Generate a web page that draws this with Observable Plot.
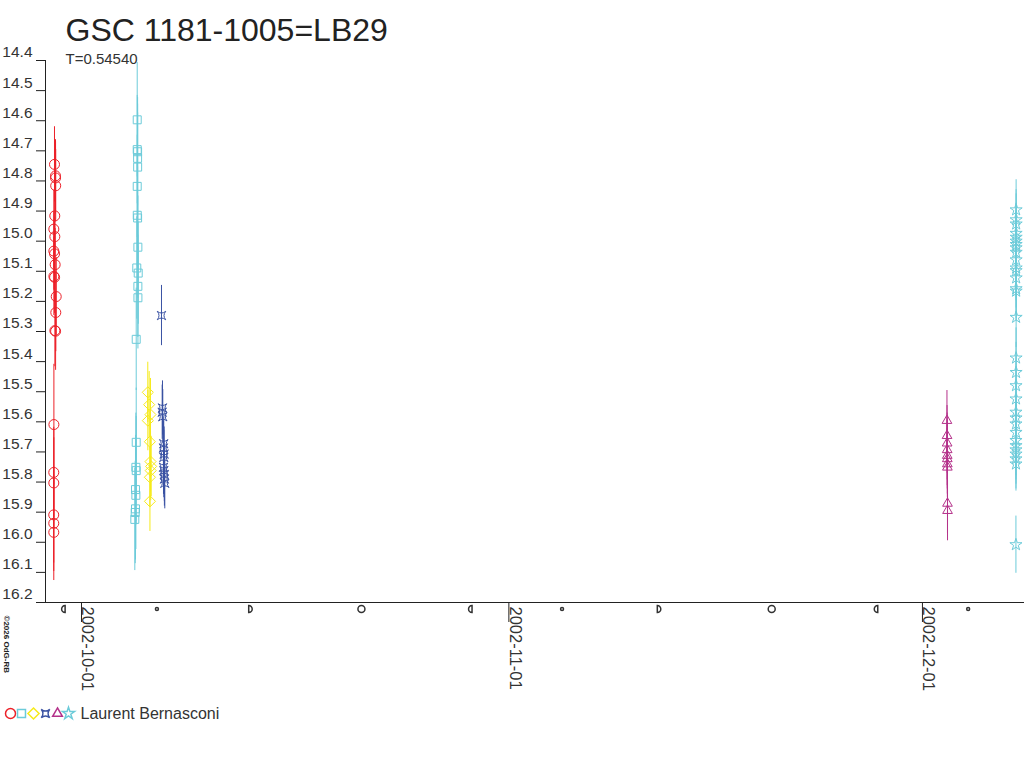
<!DOCTYPE html>
<html><head><meta charset="utf-8">
<script src="https://cdn.jsdelivr.net/npm/d3@7"></script>
<script src="https://cdn.jsdelivr.net/npm/@observablehq/plot@0.6"></script>
<style>body{margin:0;background:#fff;}#chart{width:1024px;height:768px;}</style>
</head><body><div id="chart"></div>
<script>
const title = "GSC 1181-1005=LB29";
const subtitle = "T=0.54540";
const observer = "Laurent Bernasconi";
const copyright = "©2026 OdG-RB";
const yTicks = [14.4,14.5,14.6,14.7,14.8,14.9,15.0,15.1,15.2,15.3,15.4,15.5,15.6,15.7,15.8,15.9,16.0,16.1,16.2];
const xTicks = ["2002-10-01T00:00Z","2002-11-01T00:00Z","2002-12-01T00:00Z"];
const xTickLabels = ["2002-10-01","2002-11-01","2002-12-01"];
const xDomain = ["2002-09-28T09:20Z","2002-12-08T09:40Z"];
const yDomain = [14.4, 16.2];

// Moon phases
const moonLastQuarter = ["2002-09-29T17:03Z","2002-10-29T05:28Z","2002-11-27T15:46Z"];
const moonNew = ["2002-10-06T11:18Z","2002-11-04T20:35Z","2002-12-04T07:34Z"];
const moonFirstQuarter = ["2002-10-13T05:33Z","2002-11-11T20:52Z"];
const moonFull = ["2002-10-21T07:20Z","2002-11-20T01:34Z"];

// Series 1: red circles
const redTime = ["2002-09-29T01:00Z","2002-09-29T02:45Z","2002-09-29T02:50Z","2002-09-29T03:05Z","2002-09-29T01:30Z","2002-09-28T23:50Z","2002-09-29T01:35Z","2002-09-28T23:52Z","2002-09-29T01:05Z","2002-09-29T02:10Z","2002-09-28T23:55Z","2002-09-29T01:10Z","2002-09-29T04:00Z","2002-09-29T03:15Z","2002-09-29T01:40Z","2002-09-29T02:55Z","2002-09-28T23:58Z","2002-09-28T23:45Z","2002-09-28T23:48Z","2002-09-28T23:40Z","2002-09-28T23:44Z","2002-09-28T23:46Z"];
const redMag = [14.745,14.783,14.790,14.816,14.916,14.960,14.985,15.033,15.042,15.078,15.117,15.120,15.184,15.237,15.297,15.299,15.609,15.768,15.803,15.909,15.937,15.967];
const redErr = [0.125,0.12,0.12,0.12,0.12,0.13,0.12,0.13,0.12,0.12,0.13,0.12,0.13,0.13,0.12,0.13,0.2,0.15,0.15,0.16,0.16,0.16];

// Series 2: cyan squares
const cyanTime = ["2002-10-05T01:00Z","2002-10-05T01:00Z","2002-10-05T01:40Z","2002-10-05T01:40Z","2002-10-05T01:45Z","2002-10-05T01:00Z","2002-10-05T01:05Z","2002-10-05T01:40Z","2002-10-05T02:10Z","2002-10-05T00:15Z","2002-10-05T02:45Z","2002-10-05T02:10Z","2002-10-05T02:15Z","2002-10-04T23:15Z","2002-10-04T23:15Z","2002-10-04T22:40Z","2002-10-04T23:15Z","2002-10-04T22:00Z","2002-10-04T22:40Z","2002-10-04T22:00Z","2002-10-04T21:30Z","2002-10-04T20:50Z"];
const cyanMag = [14.597,14.696,14.703,14.725,14.754,14.818,14.914,14.923,15.020,15.089,15.106,15.150,15.188,15.326,15.668,15.751,15.762,15.825,15.844,15.889,15.901,15.924];
const cyanErr = [0.19,0.18,0.18,0.18,0.18,0.17,0.17,0.17,0.17,0.17,0.17,0.17,0.17,0.17,0.18,0.18,0.18,0.18,0.18,0.17,0.17,0.17];

// Series 3: yellow diamonds
const yellowTime = ["2002-10-05T19:25Z","2002-10-05T21:50Z","2002-10-06T00:05Z","2002-10-05T19:30Z","2002-10-05T23:00Z","2002-10-06T00:10Z","2002-10-06T01:15Z","2002-10-06T00:30Z","2002-10-05T23:05Z","2002-10-05T23:10Z"];
const yellowMag = [15.502,15.543,15.576,15.596,15.666,15.732,15.748,15.762,15.784,15.864];
const yellowErr = [0.10,0.11,0.12,0.10,0.10,0.10,0.10,0.10,0.10,0.10];

// Series 4: dark blue
const blueTime = ["2002-10-06T19:15Z","2002-10-06T21:00Z","2002-10-06T20:30Z","2002-10-06T21:30Z","2002-10-06T23:10Z","2002-10-06T22:40Z","2002-10-06T23:50Z","2002-10-06T23:15Z","2002-10-06T22:45Z","2002-10-06T23:20Z","2002-10-07T00:15Z","2002-10-07T00:20Z","2002-10-07T01:00Z"];
const blueMag = [15.247,15.554,15.568,15.583,15.673,15.687,15.707,15.718,15.751,15.762,15.775,15.790,15.804];
const blueErr = [0.10,0.09,0.09,0.09,0.09,0.09,0.09,0.09,0.09,0.09,0.09,0.09,0.085];

// Series 5: magenta triangles
const magentaTime = ["2002-12-02T18:40Z","2002-12-02T18:50Z","2002-12-02T19:00Z","2002-12-02T19:05Z","2002-12-02T19:10Z","2002-12-02T19:15Z","2002-12-02T19:20Z","2002-12-02T19:25Z","2002-12-02T19:35Z","2002-12-02T19:40Z"];
const magentaMag = [15.596,15.646,15.671,15.693,15.712,15.723,15.740,15.751,15.871,15.895];
const magentaErr = [0.10,0.10,0.10,0.10,0.10,0.10,0.10,0.10,0.10,0.10];

// Series 6: cyan stars
const starTime = ["2002-12-07T19:05Z","2002-12-07T19:05Z","2002-12-07T19:10Z","2002-12-07T19:05Z","2002-12-07T19:10Z","2002-12-07T19:05Z","2002-12-07T19:10Z","2002-12-07T19:05Z","2002-12-07T19:10Z","2002-12-07T19:05Z","2002-12-07T19:10Z","2002-12-07T19:05Z","2002-12-07T19:10Z","2002-12-07T19:05Z","2002-12-07T19:10Z","2002-12-07T19:05Z","2002-12-07T19:00Z","2002-12-07T19:00Z","2002-12-07T18:55Z","2002-12-07T18:55Z","2002-12-07T18:50Z","2002-12-07T18:55Z","2002-12-07T18:50Z","2002-12-07T18:55Z","2002-12-07T18:50Z","2002-12-07T18:55Z","2002-12-07T18:50Z","2002-12-07T18:55Z","2002-12-07T18:50Z","2002-12-07T18:50Z","2002-12-07T18:45Z"];
const starMag = [14.896,14.929,14.943,14.974,14.987,15.000,15.011,15.022,15.037,15.062,15.089,15.098,15.122,15.158,15.166,15.253,15.388,15.436,15.480,15.524,15.568,15.587,15.607,15.635,15.662,15.679,15.693,15.707,15.723,15.740,16.008];
const starErr = [0.10,0.10,0.10,0.10,0.10,0.10,0.10,0.10,0.10,0.10,0.10,0.10,0.10,0.10,0.10,0.10,0.10,0.10,0.10,0.10,0.10,0.10,0.10,0.10,0.10,0.10,0.10,0.10,0.10,0.09,0.095];

const colors = {red:"#ec2129", cyan:"#6ccbd9", yellow:"#f6ea1a", blue:"#3a52a3", magenta:"#b4318a"};
const font = "'Liberation Sans', Arial, Helvetica, sans-serif";

function pts(times, mags, errs){ return times.map((t,i)=>({t:new Date(t), m:mags[i], e:errs[i]})); }

const astroid = {draw(ctx, size){ const r = Math.sqrt(size/Math.PI); const s=r*0.85, c=r*0.15;
  ctx.moveTo(-s,-s); ctx.quadraticCurveTo(0,-c,s,-s); ctx.quadraticCurveTo(c,0,s,s);
  ctx.quadraticCurveTo(0,c,-s,s); ctx.quadraticCurveTo(-c,0,-s,-s); ctx.closePath(); }};
const moonLastSym = {draw(ctx,size){const r=Math.sqrt(size/Math.PI); ctx.moveTo(r*0.4,-r); ctx.arc(r*0.4,0,r,-Math.PI/2,Math.PI/2,true); ctx.closePath();}};
const moonFirstSym = {draw(ctx,size){const r=Math.sqrt(size/Math.PI); ctx.moveTo(-r*0.4,-r); ctx.arc(-r*0.4,0,r,-Math.PI/2,Math.PI/2,false); ctx.closePath();}};

const series = [
  {data: pts(redTime, redMag, redErr), color: colors.red, symbol: "circle", r: 5},
  {data: pts(cyanTime, cyanMag, cyanErr), color: colors.cyan, symbol: "square", r: 4.5},
  {data: pts(yellowTime, yellowMag, yellowErr), color: colors.yellow, symbol: "diamond2", r: 5},
  {data: pts(blueTime, blueMag, blueErr), color: colors.blue, symbol: astroid, r: 5},
  {data: pts(magentaTime, magentaMag, magentaErr), color: colors.magenta, symbol: "triangle", r: 3.6},
  {data: pts(starTime, starMag, starErr), color: colors.cyan, symbol: "star", r: 3.8}
];

const marks = [];
for (const s of series) {
  marks.push(Plot.ruleX(s.data, {x:"t", y1: d=>d.m-d.e, y2: d=>d.m+d.e, stroke: s.color, strokeWidth: 1}));
}
for (const s of series) {
  marks.push(Plot.dot(s.data, {x:"t", y:"m", symbol: s.symbol, r: s.r, stroke: s.color, fill: "none", strokeWidth: 1}));
}
// axes
marks.push(Plot.ruleX([new Date(xDomain[0])], {stroke:"#222"}));
marks.push(Plot.ruleY([yDomain[1]], {stroke:"#222"}));
marks.push(Plot.axisY(yTicks, {tickSize: 9, tickFormat: () => "", label: null, stroke:"#222"}));
marks.push(Plot.axisY(yTicks, {tickSize: 0, tickPadding: 13, dy: -8, fontSize: 15.5, tickFormat: d => d.toFixed(1), label: null, fill:"#333"}));
marks.push(Plot.axisX(xTicks.map(d=>new Date(d)), {tickSize: 20, tickFormat: () => "", label: null, stroke:"#222"}));
marks.push(Plot.text(xTicks, {x: d=>new Date(d), text: (d,i)=>xTickLabels[i], frameAnchor:"bottom", rotate: 90, textAnchor:"start", lineAnchor:"bottom", dy: 4, dx: 1, fontSize: 16.5, fill:"#333"}));
// moon phases
marks.push(Plot.dot(moonLastQuarter, {x: d=>new Date(d), frameAnchor:"bottom", dy: 6.5, symbol: moonLastSym, r: 3.5, stroke:"#333", fill:"none"}));
marks.push(Plot.dot(moonFirstQuarter, {x: d=>new Date(d), frameAnchor:"bottom", dy: 6.5, symbol: moonFirstSym, r: 3.5, stroke:"#333", fill:"none"}));
marks.push(Plot.dot(moonFull, {x: d=>new Date(d), frameAnchor:"bottom", dy: 6.5, symbol: "circle", r: 3.5, stroke:"#333", fill:"none"}));
marks.push(Plot.dot(moonNew, {x: d=>new Date(d), frameAnchor:"bottom", dy: 6.5, symbol: "circle", r: 1.5, stroke:"#333", fill:"none"}));
// title & subtitle
marks.push(Plot.text([title], {frameAnchor:"top-left", dx: 20, dy: -20, lineAnchor:"bottom", textAnchor:"start", fontSize: 32, fill:"#222"}));
marks.push(Plot.text([subtitle], {frameAnchor:"top-left", dx: 20, dy: 3, lineAnchor:"bottom", textAnchor:"start", fontSize: 15, fill:"#333"}));
// copyright
marks.push(Plot.text([copyright], {frameAnchor:"bottom-left", dx: -39, dy: 13, rotate: 90, textAnchor:"start", lineAnchor:"middle", fontSize: 8, fontWeight: "bold", fill:"#222"}));
// legend
const legendX = [10, 21, 33, 45, 57, 68];
series.forEach((s,i) => {
  marks.push(Plot.dot([0], {frameAnchor:"bottom-left", dx: legendX[i]-45, dy: 111, symbol: s.symbol, r: s.r, stroke: s.color, fill:"none"}));
});
marks.push(Plot.text([observer], {frameAnchor:"bottom-left", dx: 35, dy: 111, lineAnchor:"middle", textAnchor:"start", fontSize: 16, fill:"#333"}));

const chart = Plot.plot({
  width: 1024, height: 768,
  marginLeft: 45, marginRight: 0, marginTop: 60, marginBottom: 166,
  x: {type: "utc", domain: xDomain.map(d=>new Date(d))},
  y: {domain: yDomain, reverse: true},
  style: {fontFamily: font, background: "#fff", color: "#333", overflow: "visible"},
  marks
});
document.getElementById("chart").appendChild(chart);
</script>
</body></html>
